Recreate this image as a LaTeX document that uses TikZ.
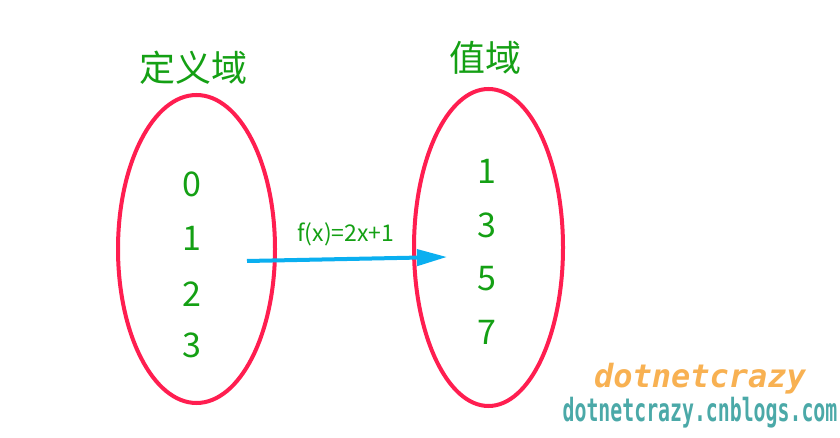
\documentclass[tikz,border=0pt]{standalone}
\usepackage{fontspec}
\usepackage{graphicx}
\setmainfont{Noto Sans CJK SC}
\newfontfamily\monofnt{DejaVu Sans Mono Bold Oblique}
\newfontfamily\monobold{DejaVu Sans Mono Bold}
\usetikzlibrary{shapes.geometric,arrows.meta}
\definecolor{ellred}{RGB}{255,30,80}
\definecolor{txtgreen}{RGB}{20,160,20}
\definecolor{arrblue}{RGB}{10,175,240}
\definecolor{wmorange}{RGB}{248,177,82}
\definecolor{wmteal}{RGB}{75,169,168}
\tikzset{
  setbox/.style={draw=ellred, line width=4pt, ellipse, inner sep=0pt},
  elem/.style={text=txtgreen, font=\fontsize{34}{34}\selectfont, inner sep=0pt},
  title/.style={text=txtgreen, font=\fontsize{36}{36}\selectfont, inner sep=0pt},
  maparrow/.style={draw=arrblue, line width=4pt, -{Triangle[length=30pt,width=16pt]}},
  maplabel/.style={text=txtgreen, font=\fontsize{23}{23}\selectfont, inner sep=0pt}
}
\begin{document}
\begin{tikzpicture}[x=1pt,y=-1pt]
\useasboundingbox (0,0) rectangle (840,438);
\fill[white] (0,0) rectangle (840,438);
\node[setbox, minimum width=157pt, minimum height=308pt] (L) at (196.5,249) {};
\node[setbox, minimum width=149pt, minimum height=317pt] (R) at (488.5,247.5) {};
\node[title] (Lt) at (193,68) {定义域};
\node[title] (Rt) at (485,58) {值域};
\node[elem] (l0) at (192,184) {0};
\node[elem] (l1) at (192,238) {1};
\node[elem] (l2) at (192,294) {2};
\node[elem] (l3) at (192,345) {3};
\node[elem] (r1) at (487,171) {1};
\node[elem] (r3) at (487,225) {3};
\node[elem] (r5) at (487,279) {5};
\node[elem] (r7) at (487,332) {7};
\coordinate (as) at (247,261);
\coordinate (ae) at (447,257);
\draw[maparrow] (as) -- (ae);
\node[maplabel] (fl) at (346,234) {f(x)=2x+1};
\node[text=wmorange, font=\monofnt\fontsize{32}{32}\selectfont, inner sep=0pt] (w1) at (700,379) {dotnetcrazy};
\node[text=wmteal, font=\monobold\fontsize{32}{32}\selectfont, inner sep=0pt] (w2) at (700,413) {\scalebox{0.62}[1]{dotnetcrazy.cnblogs.com}};
\end{tikzpicture}
\end{document}
